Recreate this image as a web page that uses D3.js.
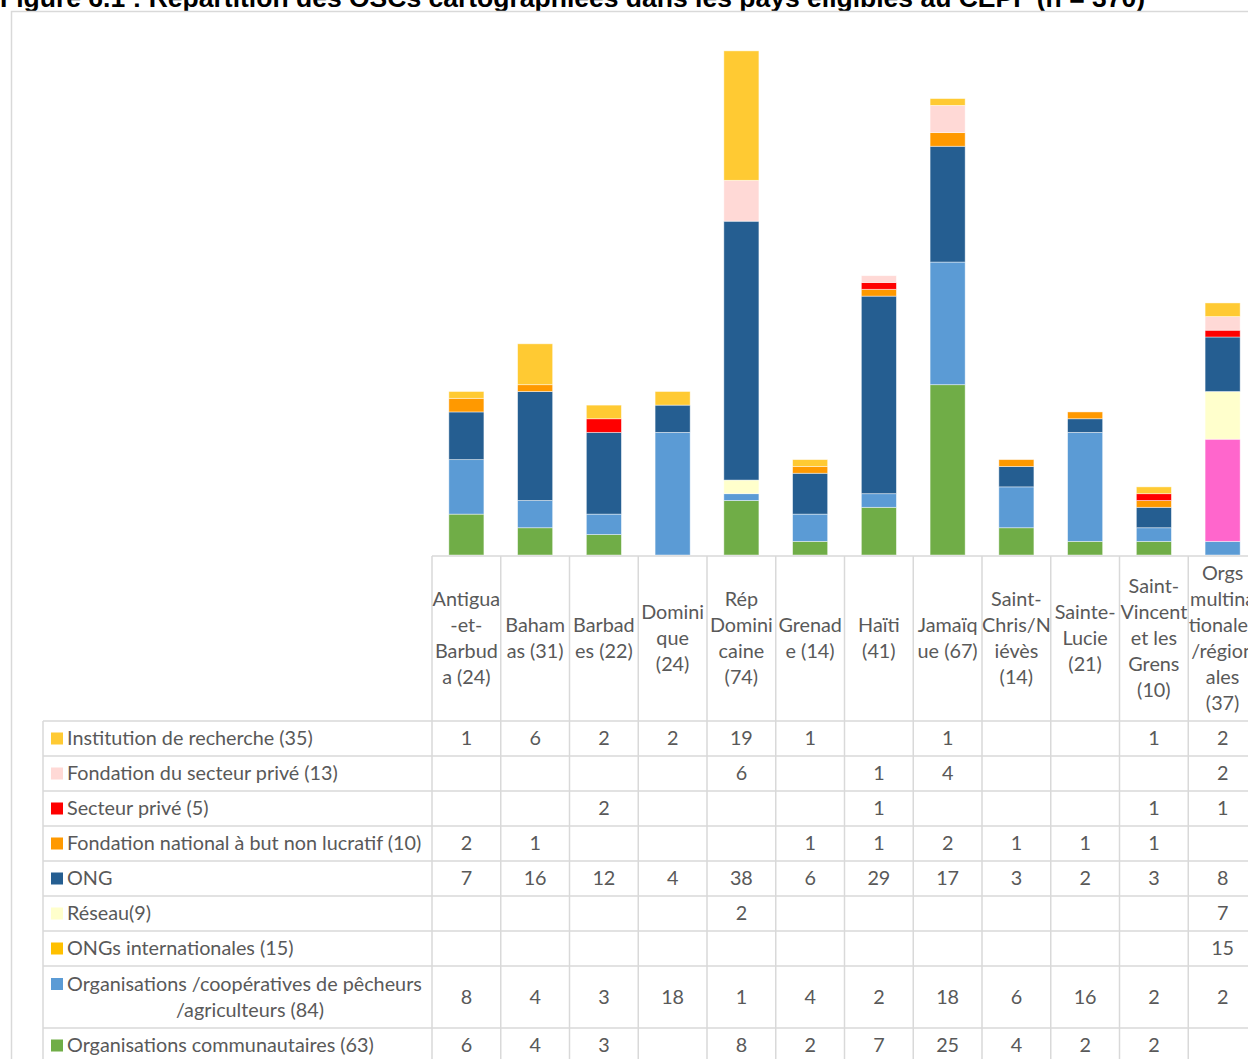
<!DOCTYPE html>
<html>
<head>
<meta charset="utf-8">
<script src="https://cdn.jsdelivr.net/npm/d3@7"></script>
<style>
  html, body { margin: 0; padding: 0; background: #fff; overflow: hidden; }
  svg { display: block; }
</style>
</head>
<body>
<svg id="chart" width="1248" height="1059"></svg>
<script>
// Countries / groups (header lines as wrapped in the table header)
const categories = ["Antigua-et-Barbuda", "Bahamas", "Barbades", "Dominique", "Rép Dominicaine", "Grenade",
  "Haïti", "Jamaïque", "Saint-Chris/Niévès", "Sainte-Lucie", "Saint-Vincent et les Grens", "Orgs multinationales/régionales"];
const categoryLines = [
  ["Antigua", "-et-", "Barbud", "a (24)"],
  ["Baham", "as (31)"],
  ["Barbad", "es (22)"],
  ["Domini", "que", "(24)"],
  ["Rép", "Domini", "caine", "(74)"],
  ["Grenad", "e (14)"],
  ["Haïti", "(41)"],
  ["Jamaïq", "ue (67)"],
  ["Saint-", "Chris/N", "iévès", "(14)"],
  ["Sainte-", "Lucie", "(21)"],
  ["Saint-", "Vincent", "et les", "Grens", "(10)"],
  ["Orgs", "multina", "tionales", "/région", "ales", "(37)"]
];

// Series, in table order (top row first)
const seriesKeys = ["recherche", "fondPrive", "prive", "fondNat", "ong", "reseau", "ongInt", "pecheurs", "communautaires"];
const seriesLabels = [
  ["Institution de recherche (35)"],
  ["Fondation du secteur privé (13)"],
  ["Secteur privé (5)"],
  ["Fondation national à but non lucratif (10)"],
  ["ONG"],
  ["Réseau(9)"],
  ["ONGs internationales (15)"],
  ["Organisations /coopératives de pêcheurs", "/agriculteurs  (84)"],
  ["Organisations communautaires (63)"]
];

const recherche      = [1, 6, 2, 2, 19, 1, null, 1, null, null, 1, 2];
const fondPrive      = [null, null, null, null, 6, null, 1, 4, null, null, null, 2];
const prive          = [null, null, 2, null, null, null, 1, null, null, null, 1, 1];
const fondNat        = [2, 1, null, null, null, 1, 1, 2, 1, 1, 1, null];
const ong            = [7, 16, 12, 4, 38, 6, 29, 17, 3, 2, 3, 8];
const reseau         = [null, null, null, null, 2, null, null, null, null, null, null, 7];
const ongInt         = [null, null, null, null, null, null, null, null, null, null, null, 15];
const pecheurs       = [8, 4, 3, 18, 1, 4, 2, 18, 6, 16, 2, 2];
const communautaires = [6, 4, 3, null, 8, 2, 7, 25, 4, 2, 2, null];

const seriesValues = { recherche, fondPrive, prive, fondNat, ong, reseau, ongInt, pecheurs, communautaires };

// Fill of the bar segments and of the key squares in the table
const barColors = {
  recherche: "#FFCA33", fondPrive: "#FFD9D6", prive: "#FF0000", fondNat: "#FF9900",
  ong: "#255E91", reseau: "#FFFFCC", ongInt: "#FF66CC", pecheurs: "#5B9BD5", communautaires: "#70AD47"
};
const keyColors = Object.assign({}, barColors, { ongInt: "#FFC000" });

const svg = d3.select("#chart");
const gridColor = "#d9d9d9";
const textColor = "#595959";
const fontFamily = "Lato, 'Open Sans', sans-serif";
const fontSize = 19.8;

// Title
svg.append("text")
  .attr("x", 0).attr("y", 7)
  .attr("font-family", "'Liberation Sans', Arial, sans-serif")
  .attr("font-weight", "bold")
  .attr("font-size", 26.5)
  .attr("fill", "#000")
  .text("Figure 6.1 : Répartition des OSCs cartographiées dans les pays éligibles au CEPF (n = 370)");

// Chart area frame
svg.append("rect")
  .attr("x", 11.5).attr("y", 11.5).attr("width", 1300).attr("height", 1100)
  .attr("fill", "#fff").attr("stroke", gridColor).attr("stroke-width", 1.5);

// Scales
const colW = 68.75;
const x = d3.scaleBand().domain(categories).range([432, 432 + colW * categories.length]).padding(0);
const y = d3.scaleLinear().domain([0, 80]).range([555, 10]);
const barW = x.bandwidth() * 0.51;

// Stacked bars (bottom series first)
const stackOrder = seriesKeys.slice().reverse();
const rows = categories.map((c, i) => {
  const r = { cat: c };
  seriesKeys.forEach(k => { r[k] = seriesValues[k][i] || 0; });
  return r;
});
const stacked = d3.stack().keys(stackOrder)(rows);

svg.append("g").selectAll("g")
  .data(stacked)
  .join("g")
  .attr("fill", d => barColors[d.key])
  .selectAll("rect")
  .data(d => d.filter(s => s[1] - s[0] > 0))
  .join("rect")
  .attr("x", d => x(d.data.cat) + (x.bandwidth() - barW) / 2)
  .attr("width", barW)
  .attr("y", d => y(d[1]))
  .attr("height", d => y(d[0]) - y(d[1]))
  .attr("stroke", "#ffffff")
  .attr("stroke-opacity", 0.55)
  .attr("stroke-width", 0.8);

// Data table
const headerTop = 556, headerBottom = 721;
const rowHeights = [35, 35, 35, 35, 35, 35, 35, 62, 35];
const rowTops = [];
let acc = headerBottom;
rowHeights.forEach(h => { rowTops.push(acc); acc += h; });
const tableBottom = acc;
const tableLeft = 43, tableRight = 1300;
const lineH = 26;

const grid = svg.append("g").attr("stroke", gridColor).attr("stroke-width", 1.5);
// horizontal lines
grid.append("line").attr("x1", 432).attr("x2", tableRight).attr("y1", headerTop).attr("y2", headerTop);
rowTops.concat([tableBottom]).forEach(t => {
  grid.append("line").attr("x1", tableLeft).attr("x2", tableRight).attr("y1", t).attr("y2", t);
});
// vertical lines
grid.append("line").attr("x1", tableLeft).attr("x2", tableLeft).attr("y1", headerBottom).attr("y2", tableBottom);
categories.concat([null]).forEach((c, i) => {
  const xx = 432 + i * colW;
  grid.append("line").attr("x1", xx).attr("x2", xx).attr("y1", headerTop).attr("y2", tableBottom);
});

const txt = svg.append("g")
  .attr("font-family", fontFamily)
  .attr("font-size", fontSize)
  .attr("fill", textColor);

// Header labels
categories.forEach((c, i) => {
  const lines = categoryLines[i];
  const cx = x(c) + x.bandwidth() / 2;
  const cy = (headerTop + headerBottom) / 2;
  const t = txt.append("text").attr("text-anchor", "middle");
  lines.forEach((l, j) => {
    t.append("tspan")
      .attr("x", cx)
      .attr("y", cy + (j - (lines.length - 1) / 2) * lineH)
      .attr("dy", "0.35em")
      .text(l);
  });
});

// Row keys, labels and values
seriesKeys.forEach((k, r) => {
  const top = rowTops[r], h = rowHeights[r];
  const cy = top + h / 2;
  const lines = seriesLabels[r];
  if (lines.length === 1) {
    svg.append("rect")
      .attr("x", 51).attr("y", cy - 6).attr("width", 12).attr("height", 12)
      .attr("fill", keyColors[k]);
    txt.append("text").attr("x", 67).attr("y", cy).attr("dy", "0.35em").text(lines[0]);
  } else {
    const y0 = cy - lineH / 2;
    svg.append("rect")
      .attr("x", 51).attr("y", y0 - 6).attr("width", 12).attr("height", 12)
      .attr("fill", keyColors[k]);
    txt.append("text").attr("x", 67).attr("y", y0).attr("dy", "0.35em").text(lines[0]);
    txt.append("text").attr("x", 250).attr("y", y0 + lineH).attr("dy", "0.35em")
      .attr("text-anchor", "middle").text(lines[1]);
  }
  seriesValues[k].forEach((v, i) => {
    if (v == null) return;
    txt.append("text")
      .attr("x", x(categories[i]) + x.bandwidth() / 2)
      .attr("y", cy).attr("dy", "0.35em")
      .attr("text-anchor", "middle")
      .text(v);
  });
});
</script>
</body>
</html>
